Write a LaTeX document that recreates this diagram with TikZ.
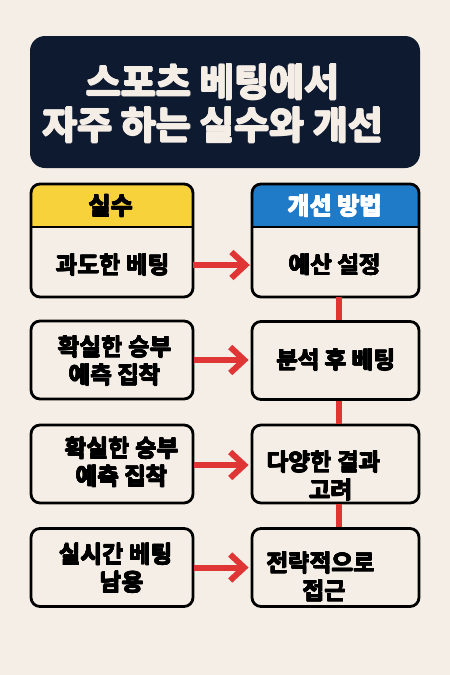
\documentclass[tikz,border=0pt]{standalone}
\usepackage{fontspec}
\usepackage[copies]{contour}
\setmainfont{Noto Sans CJK KR}[BoldFont={Noto Sans CJK KR Bold}]
\usetikzlibrary{arrows.meta}

\definecolor{paper}{HTML}{F5EEE6}
\definecolor{navy}{HTML}{0E1A30}
\definecolor{hdryellow}{HTML}{F8D23A}
\definecolor{hdrblue}{HTML}{1F7BC8}
\definecolor{linkred}{HTML}{E03535}

% heavy lettering: text ringed by copies of itself
\contournumber{8}
\newcommand{\hv}[1]{\contour{.}{#1}}

\begin{document}
\begin{tikzpicture}[
  x=1pt, y=-1pt,
  frame/.style={draw=black, line width=2.8pt, rounded corners=9pt},
  card/.style={frame, fill=paper, minimum width=162pt, minimum height=78pt, inner sep=0pt},
  txt/.style={font=\contourlength{0.4pt}\bfseries\fontsize{23.5}{28}\selectfont, align=center, inner sep=0pt},
  hdr/.style={font=\contourlength{0.4pt}\bfseries\fontsize{24}{28}\selectfont, inner sep=0pt},
  link/.style={linkred, line width=6pt, -{Straight Barb[length=14pt, width=26pt]}},
  spine/.style={linkred, line width=6pt},
]

% ── Parameters (unit = 1 pt) ────────────────────────────────────────────────
\def\xs{339}     % red spine

% background
\fill[paper] (0,0) rectangle (450,675);
\useasboundingbox (0,0) rectangle (450,675);

% ── Title ───────────────────────────────────────────────────────────────────
\fill[navy, rounded corners=15pt] (30,36) rectangle (420,168);
\node[font=\contourlength{0.8pt}\bfseries\fontsize{38}{43}\selectfont, text=paper, align=center, inner sep=0pt]
  (title) at (213,104) {\hv{스포츠 베팅에서}\\\hv{자주 하는 실수와 개선}};

% ── Column headers (header strip + first card in one frame) ─────────────────
\begin{scope}
  \clip[rounded corners=9pt] (31,184) rectangle (193,297);
  \fill[paper] (31,184) rectangle (193,297);
  \fill[hdryellow] (31,184) rectangle (193,227);
\end{scope}
\begin{scope}
  \clip[rounded corners=9pt] (252,184) rectangle (419,297);
  \fill[paper] (252,184) rectangle (419,297);
  \fill[hdrblue] (252,184) rectangle (419,227);
\end{scope}
\draw[frame] (31,184) rectangle (193,297);
\draw[frame] (252,184) rectangle (419,297);
\draw[line width=2.8pt] (31,227) -- (193,227);
\draw[line width=2.8pt] (252,227) -- (419,227);

\node[hdr] (mhead) at (111,206) {\hv{실수}};
\node[hdr, text=white] (fhead) at (335,206) {\hv{개선 방법}};

% first row: frames already drawn above
\node[minimum width=162pt, minimum height=70pt] (m1) at (112,262) {};
\node[minimum width=167pt, minimum height=70pt] (f1) at (335.5,262) {};
\node[txt] (m1t) at (113,265) {\hv{과도한 베팅}};
\node[txt] (f1t) at (335,265) {\hv{예산 설정}};

% ── Remaining rows ──────────────────────────────────────────────────────────
\node[card] (m2) at (112,360) {};
\node[card, minimum width=167pt] (f2) at (335.5,360.5) {};
\node[card] (m3) at (112,464) {};
\node[card, minimum width=167pt] (f3) at (335.5,464) {};
\node[card] (m4) at (112,567.5) {};
\node[card, minimum width=167pt] (f4) at (335.5,567.5) {};

\node[txt] (m2t) at (115,361) {\hv{확실한 승부}\\\hv{예측 집착}};
\node[txt] (f2t) at (336,360) {\hv{분석 후 베팅}};
\node[txt] (m3t) at (122,462.5) {\hv{확실한 승부}\\\hv{예측 집착}};
\node[txt, align=left] (f3t) at (324,476) {\hv{다양한 결과}\\\hspace*{42pt}\hv{고려}};
\node[txt] (m4t) at (116,568.5) {\hv{실시간 베팅}\\\hspace*{12pt}\hv{남용}};
\node[txt, align=left] (f4t) at (321,577) {\hv{전략적으로}\\\hspace*{36pt}\hv{접근}};

% ── Spine down the improvement column ───────────────────────────────────────
\draw[spine] (f1.south -| \xs,0) -- (f2.north -| \xs,0);
\draw[spine] (f2.south -| \xs,0) -- (f3.north -| \xs,0);
\draw[spine] (f3.south -| \xs,0) -- (f4.north -| \xs,0);

% ── Mistake -> improvement arrows ───────────────────────────────────────────
\draw[link] ([yshift=-3pt]m1.east) -- ([yshift=-3pt,xshift=-2pt]f1.west);
\draw[link] (m2.east) -- ([xshift=-2pt]f2.west |- m2.east);
\draw[link] ([yshift=-1pt]m3.east) -- ([xshift=-2pt,yshift=-1pt]f3.west);
\draw[link] (m4.east) -- ([xshift=-2pt]f4.west);

\end{tikzpicture}
\end{document}
